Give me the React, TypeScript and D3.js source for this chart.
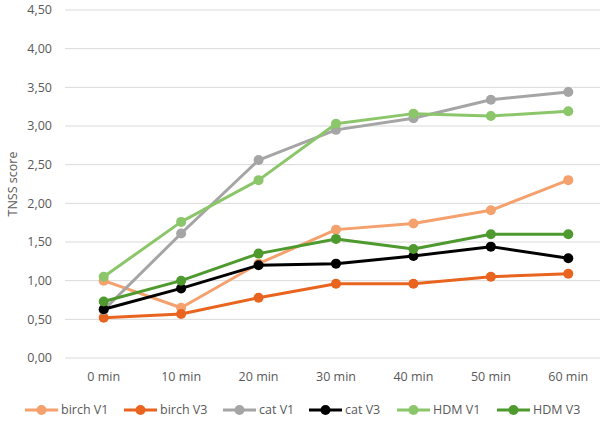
import React from "react";
import * as d3 from "d3";

const categories = ["0 min", "10 min", "20 min", "30 min", "40 min", "50 min", "60 min"];
const yTicks = [0, 0.5, 1, 1.5, 2, 2.5, 3, 3.5, 4, 4.5];

const birchV1 = [1.0, 0.65, 1.22, 1.66, 1.74, 1.91, 2.3];
const birchV3 = [0.52, 0.57, 0.78, 0.96, 0.96, 1.05, 1.09];
const catV1 = [0.62, 1.61, 2.56, 2.95, 3.1, 3.34, 3.44];
const catV3 = [0.63, 0.9, 1.2, 1.22, 1.32, 1.44, 1.29];
const hdmV1 = [1.05, 1.76, 2.3, 3.03, 3.16, 3.13, 3.19];
const hdmV3 = [0.73, 1.0, 1.35, 1.54, 1.41, 1.6, 1.6];

const seriesNames = ["birch V1", "birch V3", "cat V1", "cat V3", "HDM V1", "HDM V3"];
const seriesValues = [birchV1, birchV3, catV1, catV3, hdmV1, hdmV3];
const seriesColors = ["#F4A16E", "#E8641F", "#A5A5A5", "#000000", "#8CC66A", "#4E9A2F"];

export default function App() {
  const W = 600, H = 422;
  const left = 65, right = 607, top = 10, bottom = 358;
  const x = d3.scaleBand<string>().domain(categories).range([left, right]);
  const y = d3.scaleLinear().domain([0, 4.5]).range([bottom, top]);
  const cx = (c: string) => (x(c) as number) + x.bandwidth() / 2;
  const line = d3.line<number>().x((_, i) => cx(categories[i])).y((d) => y(d));
  const font = "'Open Sans', 'Liberation Sans', sans-serif";
  const legendX = [25, 124, 223, 309, 397, 497];

  return (
    <svg width={W} height={H} style={{ position: "absolute", left: 0, top: 0, background: "#fff" }}>
      {yTicks.map((t) => (
        <g key={t}>
          <line x1={left} x2={W} y1={y(t)} y2={y(t)} stroke="#D9D9D9" strokeWidth={1} />
          <text x={52} y={y(t)} dy="0.35em" textAnchor="end" fontSize={12.5} fill="#595959" fontFamily={font}>
            {t.toFixed(2).replace(".", ",")}
          </text>
        </g>
      ))}
      {categories.map((c) => (
        <text key={c} x={cx(c)} y={377} dy="0.35em" textAnchor="middle" fontSize={12.5} fill="#595959" fontFamily={font}>
          {c}
        </text>
      ))}
      <text transform={`translate(13,${(top + bottom) / 2}) rotate(-90)`} textAnchor="middle" dy="0.35em" fontSize={12.5} fill="#595959" fontFamily={font}>
        TNSS score
      </text>
      {seriesValues.map((vals, si) => (
        <g key={si}>
          <path d={line(vals) as string} fill="none" stroke={seriesColors[si]} strokeWidth={3} strokeLinejoin="round" />
          {vals.map((v, i) => (
            <circle key={i} cx={cx(categories[i])} cy={y(v)} r={5} fill={seriesColors[si]} />
          ))}
        </g>
      ))}
      {seriesNames.map((n, si) => (
        <g key={n} transform={`translate(${legendX[si]},410)`}>
          <line x1={0} x2={33} y1={0} y2={0} stroke={seriesColors[si]} strokeWidth={3} />
          <circle cx={16.5} cy={0} r={5} fill={seriesColors[si]} />
          <text x={36} y={0} dy="0.35em" fontSize={12.5} fill="#595959" fontFamily={font}>{n}</text>
        </g>
      ))}
    </svg>
  );
}
